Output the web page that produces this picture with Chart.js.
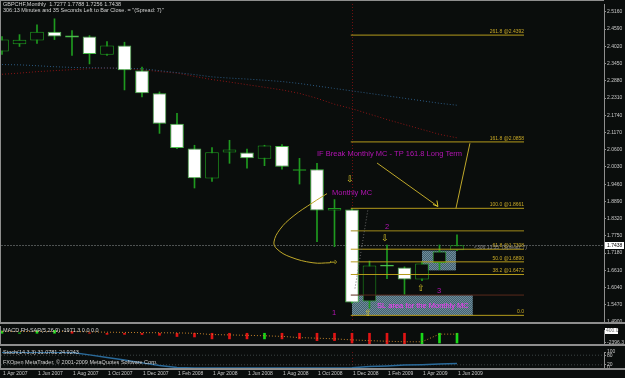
<!DOCTYPE html>
<html>
<head>
<meta charset="utf-8">
<script src="https://cdn.jsdelivr.net/npm/chart.js@4.4.1/dist/chart.umd.min.js"></script>
<style>
html, body { margin: 0; padding: 0; background: #0a0d0c; overflow: hidden; }
#wrap { position: relative; width: 625px; height: 378px; }
.pane { position: absolute; left: 0; width: 625px; }
canvas { display: block; }
</style>
</head>
<body>
<div id="wrap">
  <div class="pane" style="top:0;height:326px"><canvas id="mainChart"></canvas></div>
  <div class="pane" style="top:326px;height:22px"><canvas id="macdChart"></canvas></div>
  <div class="pane" style="top:348px;height:30px"><canvas id="stochChart"></canvas></div>
</div>
<script>
// monthly bars, GBPCHF
var months = ["Apr 2007","May 2007","Jun 2007","Jul 2007","Aug 2007","Sep 2007","Oct 2007","Nov 2007","Dec 2007",
  "Jan 2008","Feb 2008","Mar 2008","Apr 2008","May 2008","Jun 2008","Jul 2008","Aug 2008","Sep 2008","Oct 2008","Nov 2008","Dec 2008",
  "Jan 2009","Feb 2009","Mar 2009","Apr 2009","May 2009","Jun 2009"];
var opens  = [2.3853,2.4091,2.4212,2.4506,2.4376,2.4343,2.3745,2.4049,2.3222,2.2470,2.1457,2.0640,1.9647,2.0510,2.0510,2.0300,2.0725,1.9908,1.9954,1.8591,1.8624,1.5575,1.6794,1.6706,1.6304,1.6850,1.7277];
var highs  = [2.4343,2.4408,2.4735,2.4931,2.4539,2.4376,2.4180,2.4157,2.3330,2.2513,2.1804,2.0748,2.0673,2.0912,2.0618,2.0748,2.0771,2.0314,2.0150,1.8951,1.8661,1.6915,1.7448,1.6725,1.6892,1.7448,1.7788];
var lows   = [2.3755,2.4016,2.4114,2.4245,2.3722,2.3438,2.3722,2.2578,2.2350,2.1140,2.0634,1.9333,1.9549,2.0150,1.9987,2.0072,1.9954,1.9464,1.7555,1.7392,1.5520,1.5356,1.6336,1.5814,1.6270,1.6630,1.7256];
var closes = [2.4245,2.4235,2.4506,2.4343,2.4310,2.3765,2.4049,2.3232,2.2470,2.1457,2.0660,1.9660,2.0520,2.0608,2.0314,2.0738,2.0039,1.9954,1.8591,1.8673,1.5542,1.6771,1.6740,1.6304,1.6837,1.7229,1.7438];

// moving averages (blue and red dotted)
var maBlue = [2.3418,2.3408,2.3379,2.3346,2.3323,2.3314,2.3304,2.3294,2.3281,2.3216,2.3150,2.3085,2.3010,2.2970,2.2938,2.2899,2.2856,2.2791,2.2709,2.2627,2.2546,2.2464,2.2382,2.2301,2.2219,2.2137,2.2072];
var maRed  = [2.3095,2.3134,2.3183,2.3216,2.3248,2.3281,2.3304,2.3287,2.3248,2.3183,2.3134,2.3026,2.2921,2.2840,2.2752,2.2667,2.2578,2.2464,2.2301,2.2104,2.1957,2.1778,2.1598,2.1435,2.1271,2.1108,2.0993];

// MACD FH-SAR panel
var macdHist   = [620,100,680,880,470,100,-300,-300,-350,-550,-880,-1000,-1520,-1520,-1520,-1520,-1520,-1520,-1990,-1990,-2630,-2830,-2830,-2960,-2830,-2630,-2630];
var macdUp     = [1,1,1,1,0,0,0,0,0,0,0,0,0,0,0,1,0,0,0,0,0,0,0,0,1,1,1];
var macdSignal = [490,490,490,490,490,370,290,230,175,140,100,0,-350,-450,-550,-680,-840,-1170,-1330,-1500,-1790,-1990,-2150,-2300,-2300,-230,-230];

// Stochastic panel
var stochMain = [98,98,98,98,97,82,66,50,32,16,3,0,0,0,0,0,0,0,0,0,1,10,13,18,21,25,28];
var stochLevels = [80, 20];

// axis tick labels
var priceTicks = [2.5160,2.4590,2.4020,2.3450,2.2880,2.2310,2.1740,2.1170,2.0600,2.0030,1.9460,1.8890,1.8320,1.7750,1.7180,1.6610,1.6040,1.5470,1.4900];
var macdTicks = [-2396.3];
var stochTicks = [100, 80, 20, 0];

// fibonacci retracement drawn on the Dec 2008 leg
var fibLabels = ["0.0","38.2 @1.6472","50.0 @1.6890","61.8 @1.7308","100.0 @1.8661","161.8 @2.0858","261.8 @2.4392"];
var fibPrices = [1.5120,1.6472,1.6890,1.7308,1.8661,2.0858,2.4392];
var extraLevels = [1.7915, 1.5791];
var bid = 1.7438;

var X_MIN = -0.057, X_MAX = 34.4;
var BG = '#0a0d0c';
var GREEN = '#1f9a1f';
var GOLD = '#b49a1c';
var FRAME = '#8e8e8e';
var FONT = 'Liberation Sans';

function pts(arr) { return arr.map(function (v, i) { return { x: i, y: v }; }); }
function hline(y, x0, x1) { return [{ x: x0, y: y }, { x: x1, y: y }]; }

function xAxis() {
  return { type: 'linear', min: X_MIN, max: X_MAX, offset: false, display: false, grid: { display: false } };
}
function rightAxis(min, max, ticks, fmt) {
  return {
    position: 'right', min: min, max: max, beginAtZero: false,
    afterFit: function (s) { s.width = 21; },
    afterBuildTicks: function (s) { s.ticks = ticks.map(function (v) { return { value: v }; }); },
    grid: { drawOnChartArea: false, color: FRAME, tickLength: 2 },
    border: { display: true, color: FRAME },
    ticks: { color: '#c8c8c8', font: { family: FONT, size: 5 }, padding: 1, autoSkip: false, callback: fmt }
  };
}

// frame, separator and the red vertical marker shared by all panes
function paneFrame(drawTop) {
  return {
    id: 'paneFrame',
    beforeDatasetsDraw: function (chart) {
      var c = chart.ctx, a = chart.chartArea;
      var vx = chart.scales.x.getPixelForValue(20);
      c.save();
      c.strokeStyle = '#6e1010';
      c.setLineDash([1, 2]);
      c.beginPath(); c.moveTo(Math.round(vx) + 0.5, a.top); c.lineTo(Math.round(vx) + 0.5, a.bottom); c.stroke();
      c.restore();
    },
    afterDraw: function (chart) {
      var c = chart.ctx, a = chart.chartArea;
      c.save();
      c.fillStyle = FRAME;
      c.fillRect(0, a.bottom, chart.width, 2);
      c.fillRect(0, 0, 1, a.bottom);
      if (drawTop) c.fillRect(0, 0, a.right, 1);
      c.restore();
    }
  };
}

var rects = [
  { x0: 20, x1: 26.9, y0: 1.5120, y1: 1.5791 },
  { x0: 24, x1: 25.94, y0: 1.6608, y1: 1.7262 }
];
var texts = [
  { t: 'IF Break Monthly MC - TP 161.8 Long Term', x: 18.0, y: 2.0454, c: '#b414b4', s: 7.5 },
  { t: 'Monthly MC', x: 18.86, y: 1.9180, c: '#b414b4', s: 7.5 },
  { t: '1', x: 18.86, y: 1.5193, c: '#b414b4', s: 7.5 },
  { t: '2', x: 21.89, y: 1.8036, c: '#b414b4', s: 7.5 },
  { t: '3', x: 24.86, y: 1.5912, c: '#b414b4', s: 7.5 },
  { t: 'SL area for the Monthly MC', x: 21.43, y: 1.5422, c: '#ff34ff', s: 7.5 }
];
var arrows = [
  { t: '\u21E9', x: 19.89, y: 1.9604 },
  { t: '\u21E9', x: 21.89, y: 1.7644 },
  { t: '\u21E7', x: 20.91, y: 1.5160 },
  { t: '\u21E7', x: 23.94, y: 1.6010 },
  { t: '\u21E8', x: 18.95, y: 1.6859 }
];

var mainDecor = {
  id: 'mainDecor',
  beforeDatasetsDraw: function (chart) {
    var c = chart.ctx, xs = chart.scales.x, ys = chart.scales.y;
    // dotted blue-grey boxes
    var p = document.createElement('canvas'); p.width = 2; p.height = 2;
    var pc = p.getContext('2d');
    pc.fillStyle = '#43616f'; pc.fillRect(0, 0, 2, 2);
    pc.fillStyle = '#6f8c9a'; pc.fillRect(0, 0, 1, 1); pc.fillRect(1, 1, 1, 1);
    c.save();
    c.fillStyle = c.createPattern(p, 'repeat');
    rects.forEach(function (r) {
      var x0 = xs.getPixelForValue(r.x0), x1 = xs.getPixelForValue(r.x1);
      var y0 = ys.getPixelForValue(r.y1), y1 = ys.getPixelForValue(r.y0);
      c.fillRect(x0, y0, x1 - x0, y1 - y0);
    });
    // bid line
    var by = Math.round(ys.getPixelForValue(bid)) + 0.5;
    c.strokeStyle = '#4e5252'; c.setLineDash([2, 1]);
    c.beginPath(); c.moveTo(1, by); c.lineTo(chart.chartArea.right, by); c.stroke();
    c.restore();
  },
  afterDatasetsDraw: function (chart) {
    var c = chart.ctx, xs = chart.scales.x, ys = chart.scales.y;
    c.save();
    // fib labels
    c.font = '5px ' + FONT; c.fillStyle = '#c9a926'; c.textAlign = 'right'; c.textBaseline = 'bottom';
    var fx = xs.getPixelForValue(29.83);
    fibPrices.forEach(function (v, i) { c.fillText(fibLabels[i], fx, ys.getPixelForValue(v) - 1); });
    // spread note beside the bid line
    c.fillStyle = '#8c8c8c'; c.textAlign = 'left'; c.textBaseline = 'middle';
    c.fillText('<306:13:35  (Spread: 7)', xs.getPixelForValue(26.97), ys.getPixelForValue(bid) + 2);
    // comments
    texts.forEach(function (t) {
      c.font = t.s + 'px ' + FONT; c.fillStyle = t.c;
      c.fillText(t.t, xs.getPixelForValue(t.x), ys.getPixelForValue(t.y));
    });
    c.font = '9px "DejaVu Sans"'; c.fillStyle = '#d8c428'; c.textAlign = 'center';
    arrows.forEach(function (a) { c.fillText(a.t, xs.getPixelForValue(a.x), ys.getPixelForValue(a.y)); });
    // arrow head at the end of the diagonal line
    var ax = xs.getPixelForValue(24.91), ay = ys.getPixelForValue(1.8722);
    c.strokeStyle = '#d8c428'; c.lineWidth = 1;
    c.beginPath(); c.moveTo(ax - 5, ay - 2); c.lineTo(ax, ay); c.lineTo(ax - 1, ay - 6); c.stroke();
    // header
    c.font = '5.5px ' + FONT; c.fillStyle = '#d2d2d2'; c.textAlign = 'left'; c.textBaseline = 'top';
    c.fillText('GBPCHF,Monthly  1.7277 1.7788 1.7256 1.7438', 3, 2);
    c.fillText('306:13 Minutes and 35 Seconds Left to Bar Close. = "(Spread: 7)"', 3, 8);
    c.restore();
  },
  afterDraw: function (chart) {
    var c = chart.ctx, a = chart.chartArea;
    var y = chart.scales.y.getPixelForValue(bid);
    c.save();
    c.fillStyle = '#ffffff'; c.fillRect(a.right + 1, Math.round(y) - 3, 19, 7);
    c.fillStyle = '#000000'; c.font = '5px ' + FONT; c.textBaseline = 'middle';
    c.fillText('1.7438', a.right + 3, y + 0.5);
    c.restore();
  }
};

var mainSets = [
  { type: 'bar', data: months.map(function (m, i) { return { x: i, y: [lows[i], highs[i]] }; }),
    backgroundColor: GREEN, barThickness: 1, grouped: false, order: 5 },
  { type: 'bar', data: months.map(function (m, i) { return { x: i, y: [opens[i], closes[i]] }; }),
    backgroundColor: months.map(function (m, i) { return closes[i] < opens[i] ? '#ffffff' : BG; }),
    borderColor: months.map(function (m, i) { return closes[i] < opens[i] ? '#4cbc4c' : GREEN; }),
    borderWidth: 1, borderSkipped: false, barPercentage: 0.78, categoryPercentage: 1, grouped: false, order: 4 },
  { type: 'line', data: pts(maBlue), borderColor: '#2c5a82', borderWidth: 1, borderDash: [1, 2], pointRadius: 0, order: 6 },
  { type: 'line', data: pts(maRed), borderColor: '#8c1616', borderWidth: 1, borderDash: [1, 2], pointRadius: 0, order: 6 }
];
fibPrices.forEach(function (v) {
  mainSets.push({ type: 'line', data: hline(v, 19.93, 29.83), borderColor: GOLD, borderWidth: 1, pointRadius: 0, order: 3 });
});
mainSets.push({ type: 'line', data: hline(extraLevels[0], 19.93, 29.83), borderColor: '#a08a1a', borderWidth: 1, pointRadius: 0, order: 3 });
mainSets.push({ type: 'line', data: hline(extraLevels[1], 19.93, 29.83), borderColor: '#5a2a1c', borderWidth: 1, pointRadius: 0, order: 3 });
// curved arrow from "Monthly MC" back under the Nov candle
mainSets.push({ type: 'line', data: [{ x: 18.57, y: 1.9147 }, { x: 17.77, y: 1.8853 }, { x: 16.63, y: 1.8395 }, { x: 15.89, y: 1.7970 },
  { x: 15.54, y: 1.7546 }, { x: 15.71, y: 1.7317 }, { x: 16.46, y: 1.7055 }, { x: 17.77, y: 1.6859 }, { x: 18.75, y: 1.6859 }],
  borderColor: '#bfa82a', borderWidth: 1, tension: 0.4, pointRadius: 0, order: 1 });
mainSets.push({ type: 'line', data: [{ x: 21.43, y: 2.0160 }, { x: 24.91, y: 1.8722 }], borderColor: '#bfa82a', borderWidth: 1, pointRadius: 0, order: 1 });
mainSets.push({ type: 'line', data: [{ x: 26.74, y: 2.0814 }, { x: 25.94, y: 1.8657 }], borderColor: '#bfa82a', borderWidth: 1, pointRadius: 0, order: 1 });
mainSets.push({ type: 'line', data: [{ x: 20.17, y: 1.6010 }, { x: 20.91, y: 1.8624 }], borderColor: '#6a6a6a', borderWidth: 1, borderDash: [1, 2], pointRadius: 0, order: 1 });

var common = {
  responsive: true, maintainAspectRatio: false, animation: false, events: [],
  plugins: { legend: { display: false }, tooltip: { enabled: false } }
};

new Chart(document.getElementById('mainChart'), {
  type: 'bar',
  data: { datasets: mainSets },
  options: Object.assign({}, common, {
    layout: { padding: { top: 2, left: 1, right: 0, bottom: 2 } },
    scales: { x: xAxis(), y: rightAxis(1.49, 2.5421, priceTicks, function (v) { return v.toFixed(4); }) }
  }),
  plugins: [paneFrame(true), mainDecor]
});

// MACD pane
var macdDecor = {
  id: 'macdDecor',
  afterDatasetsDraw: function (chart) {
    var c = chart.ctx;
    c.save();
    c.font = '5.5px ' + FONT; c.fillStyle = '#d2d2d2'; c.textBaseline = 'top';
    c.fillText('MACD FH-SAR(5,26,9) -1971.3 0.0 0.0', 3, 2);
    c.restore();
  },
  afterDraw: function (chart) {
    var c = chart.ctx, a = chart.chartArea;
    c.save();
    c.fillStyle = '#ffffff'; c.fillRect(a.right + 1, 2, 13, 6);
    c.fillStyle = '#707070'; c.font = '5px ' + FONT; c.textBaseline = 'top';
    c.fillText('400.0', a.right + 2, 2.5);
    c.restore();
  }
};
new Chart(document.getElementById('macdChart'), {
  type: 'bar',
  data: { datasets: [
    { type: 'bar', data: pts(macdHist), backgroundColor: macdUp.map(function (u) { return u ? '#18d818' : '#e01414'; }),
      barThickness: 2, grouped: false, order: 2 },
    { type: 'line', data: pts(macdSignal), borderColor: '#c4822a', borderWidth: 1, borderDash: [1, 2], pointRadius: 0, order: 1 }
  ] },
  options: Object.assign({}, common, {
    layout: { padding: { top: 1, left: 1, right: 0, bottom: 2 } },
    scales: { x: xAxis(), y: rightAxis(-2900, 880, macdTicks, function (v) { return v.toFixed(1); }) }
  }),
  plugins: [paneFrame(false), macdDecor]
});

// Stochastic pane with the date axis
var stochDecor = {
  id: 'stochDecor',
  afterDatasetsDraw: function (chart) {
    var c = chart.ctx;
    c.save();
    c.font = '5.5px ' + FONT; c.fillStyle = '#d2d2d2'; c.textBaseline = 'top';
    c.fillText('Stoch(14,3,3) 31.0781 24.9243', 3, 2);
    c.fillText('FXOpen MetaTrader, \u00A9 2001-2009 MetaQuotes Software Corp.', 3, 12);
    c.restore();
  }
};
var stochX = xAxis();
stochX.display = true;
stochX.afterBuildTicks = function (s) {
  s.ticks = months.map(function (m, i) { return i; }).filter(function (i) { return i % 2 === 0; }).map(function (v) { return { value: v }; });
};
stochX.grid = { display: true, drawOnChartArea: false, tickLength: 2, color: FRAME };
stochX.border = { display: false };
stochX.ticks = { color: '#c8c8c8', font: { family: FONT, size: 5 }, padding: 1, autoSkip: false, maxRotation: 0, align: 'start', labelOffset: 1,
  callback: function (v) { return '1 ' + months[v]; } };

var stochSets = [
  { type: 'line', data: pts(stochMain), borderColor: '#2a6a9a', borderWidth: 1.5, pointRadius: 0, order: 1 }
];
stochLevels.forEach(function (v) {
  stochSets.push({ type: 'line', data: hline(v, X_MIN, X_MAX), borderColor: '#3c4444', borderWidth: 1, borderDash: [1, 2], pointRadius: 0, order: 2 });
});
new Chart(document.getElementById('stochChart'), {
  type: 'line',
  data: { datasets: stochSets },
  options: Object.assign({}, common, {
    layout: { padding: { top: 1, left: 1, right: 0, bottom: 0 } },
    scales: { x: stochX, y: rightAxis(0, 100, stochTicks, function (v) { return String(v); }) }
  }),
  plugins: [paneFrame(false), stochDecor]
});
</script>
</body>
</html>
